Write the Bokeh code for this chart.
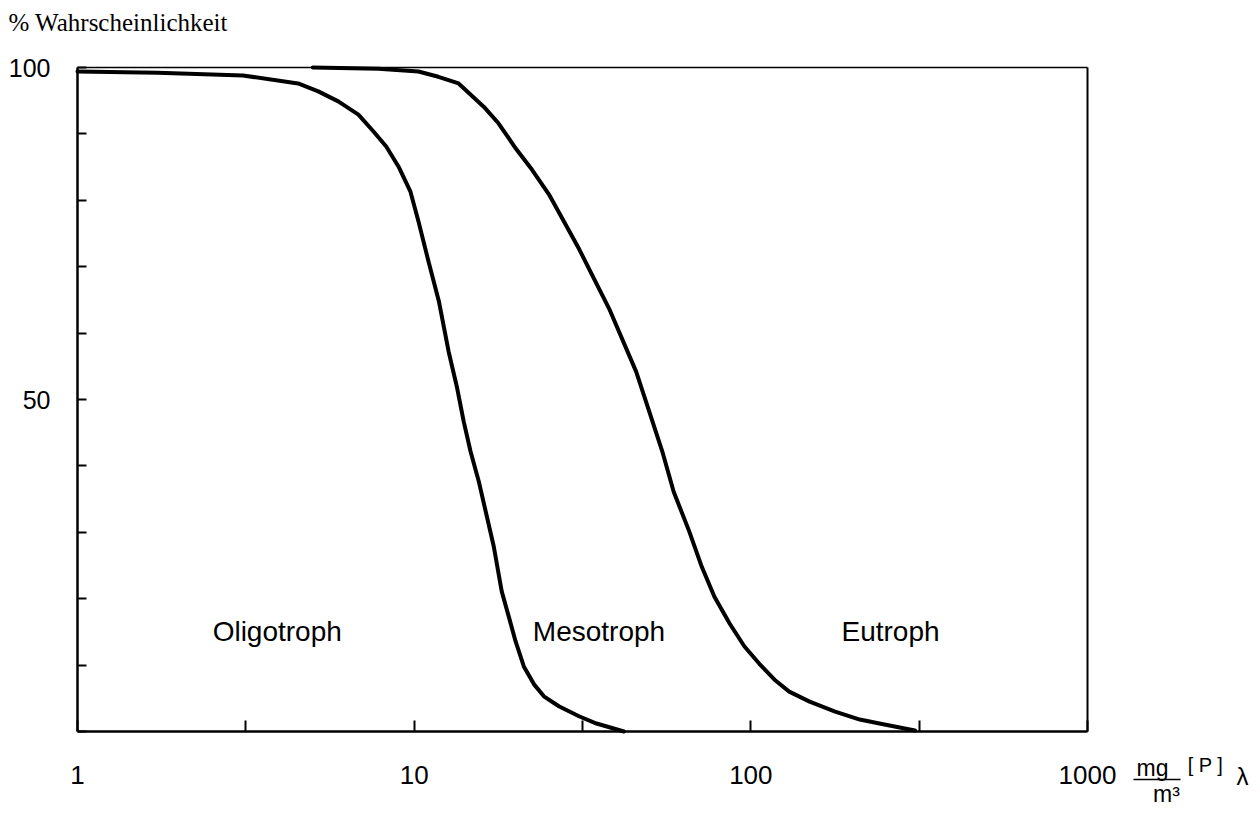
import math
from bokeh.plotting import figure
from bokeh.models import Range1d, FixedTicker, CustomJSTickFormatter, Label, LinearAxis, LogAxis
from bokeh.embed import file_html
from bokeh.resources import INLINE

# ---- data ----
oligo_x = [1.0, 1.73, 3.10, 4.52, 5.19, 5.95, 6.83, 7.56, 8.26, 8.98, 9.75, 10.3, 11.03, 11.84, 12.66,
           13.38, 14.03, 14.7, 15.55, 17.23, 18.2, 19.1, 20.0, 21.17, 22.7, 24.28, 26.9, 30.87, 34.8, 42.0]
oligo_y = [99.4, 99.2, 98.8, 97.6, 96.4, 94.9, 92.9, 90.4, 88.1, 85.1, 81.3, 76.8, 70.8, 64.8, 57.2,
           52.0, 46.7, 42.2, 37.7, 27.9, 21.1, 17.3, 13.6, 9.8, 7.1, 5.3, 3.8, 2.3, 1.2, 0.0]

eu_x = [5.0, 7.83, 10.3, 11.8, 13.55, 16.09, 17.8, 20.04, 22.4, 25.13, 30.87, 34.2, 37.93, 45.64, 49.9,
        54.56, 59.0, 65.66, 71.5, 77.96, 86.4, 95.74, 106.0, 117.6, 130.0, 149.5, 178.0, 210.7, 241.0, 307.2]
eu_y = [100.0, 99.8, 99.4, 98.6, 97.6, 94.1, 91.6, 87.8, 84.6, 80.9, 72.7, 68.2, 63.7, 54.2, 48.2,
        42.2, 36.1, 30.1, 24.8, 20.3, 16.3, 12.8, 10.2, 7.8, 6.0, 4.5, 3.0, 1.8, 1.2, 0.15]

x_ticks = [1, 3.1623, 10, 31.623, 100, 316.23, 1000]
x_tick_labels = ["1", "", "10", "", "100", "", "1000"]
y_ticks = [0, 10, 20, 30, 40, 50, 60, 70, 80, 90, 100]
y_tick_labels = ["", "", "", "", "", "50", "", "", "", "", "100"]

region_names = ["Oligotroph", "Mesotroph", "Eutroph"]
region_x = [3.92, 35.4, 260.0]
region_y = [15.0, 15.0, 15.0]

title_text = "% Wahrscheinlichkeit"

# ---- layout (pixels) ----
W, H = 1252, 806
FL, FR, FT, FB = 77, 1087, 67, 731          # plot box edges on the canvas
XMIN, XMAX, YMIN, YMAX = 1.0, 1000.0, 0.0, 100.0
px_per_dec = (FR - FL) / (math.log10(XMAX) - math.log10(XMIN))
px_per_unit = (FB - FT) / (YMAX - YMIN)

def dx(px):
    return 10 ** (math.log10(XMIN) + (px - FL) / px_per_dec)

def dy(py):
    return YMIN + (FB - py) / px_per_unit

SANS = "Liberation Sans"

p = figure(width=W, height=H, x_axis_type="log",
           x_range=Range1d(dx(0), dx(W)), y_range=Range1d(dy(H), dy(0)),
           x_axis_location=None, y_axis_location=None,
           output_backend="svg", toolbar_location=None,
           min_border=0, min_border_left=0, min_border_right=0,
           min_border_top=0, min_border_bottom=0)
p.grid.visible = False
p.outline_line_color = None
p.background_fill_color = "white"
p.border_fill_color = "white"

fmt_code = """
for (let i = 0; i < tvals.length; i++) {
  if (Math.abs(tvals[i] - tick) <= 1e-3 * Math.max(1, Math.abs(tick))) return tlabels[i];
}
return '';
"""

xa = LogAxis(fixed_location=YMIN, bounds=(XMIN, XMAX))
xa.ticker = FixedTicker(ticks=x_ticks)
xa.formatter = CustomJSTickFormatter(args=dict(tvals=x_ticks, tlabels=x_tick_labels), code=fmt_code)
xa.major_tick_in = 11
xa.major_tick_out = 0
xa.minor_tick_in = 0
xa.minor_tick_out = 0
xa.major_tick_line_width = 2
xa.axis_line_width = 2.5
xa.major_label_standoff = 34
xa.major_label_text_font = SANS
xa.major_label_text_font_size = "26px"
xa.major_label_text_color = "black"
p.add_layout(xa, "below")

ya = LinearAxis(fixed_location=XMIN, bounds=(YMIN, YMAX))
ya.ticker = FixedTicker(ticks=y_ticks)
ya.formatter = CustomJSTickFormatter(args=dict(tvals=y_ticks, tlabels=y_tick_labels), code=fmt_code)
ya.major_tick_in = 9
ya.major_tick_out = 0
ya.minor_tick_in = 0
ya.minor_tick_out = 0
ya.major_tick_line_width = 2
ya.axis_line_width = 2.5
ya.major_label_standoff = 27
ya.major_label_text_font = SANS
ya.major_label_text_font_size = "25px"
ya.major_label_text_color = "black"
p.add_layout(ya, "left")

# top and right edges of the box
top_ax = LogAxis(fixed_location=YMAX, bounds=(XMIN, XMAX), ticker=FixedTicker(ticks=[]),
                 axis_line_width=1.5, major_tick_line_color=None, minor_tick_line_color=None,
                 major_label_text_alpha=0)
p.add_layout(top_ax, "above")
right_ax = LinearAxis(fixed_location=XMAX, bounds=(YMIN, YMAX), ticker=FixedTicker(ticks=[]),
                      axis_line_width=2, major_tick_line_color=None, minor_tick_line_color=None,
                      major_label_text_alpha=0)
p.add_layout(right_ax, "right")

p.line(oligo_x, oligo_y, line_color="black", line_width=4, line_join="round", line_cap="round")
p.line(eu_x, eu_y, line_color="black", line_width=4, line_join="round", line_cap="round")

for name, rx, ry in zip(region_names, region_x, region_y):
    p.add_layout(Label(x=rx, y=ry, text=name, text_align="center", text_baseline="middle",
                       text_font=SANS, text_font_size="28px", text_color="black"))

# title (y-axis quantity)
p.add_layout(Label(x=dx(8), y=dy(8), text=title_text, text_align="left", text_baseline="top",
                   text_font="Liberation Serif", text_font_size="25px", text_color="black"))

# x-axis unit: mg / m^3 [P] lambda  (fraction bar drawn as a short bare axis line)
frac_bar = LogAxis(fixed_location=dy(779), bounds=(dx(1133), dx(1180)), ticker=FixedTicker(ticks=[]),
                   axis_line_width=1.6, major_tick_line_color=None, minor_tick_line_color=None,
                   major_label_text_alpha=0)
p.add_layout(frac_bar, "below")
p.add_layout(Label(x=dx(1152), y=dy(767), text="mg", text_align="center", text_baseline="middle",
                   text_font=SANS, text_font_size="23px", text_color="black"))
p.add_layout(Label(x=dx(1166), y=dy(793), text="m³", text_align="center", text_baseline="middle",
                   text_font=SANS, text_font_size="23px", text_color="black"))
p.add_layout(Label(x=dx(1205), y=dy(764), text="[ P ]", text_align="center", text_baseline="middle",
                   text_font=SANS, text_font_size="20px", text_color="black"))
p.add_layout(Label(x=dx(1242), y=dy(776), text="λ", text_align="center", text_baseline="middle",
                   text_font=SANS, text_font_size="24px", text_color="black"))

open("out.html", "w").write(file_html(p, INLINE))
